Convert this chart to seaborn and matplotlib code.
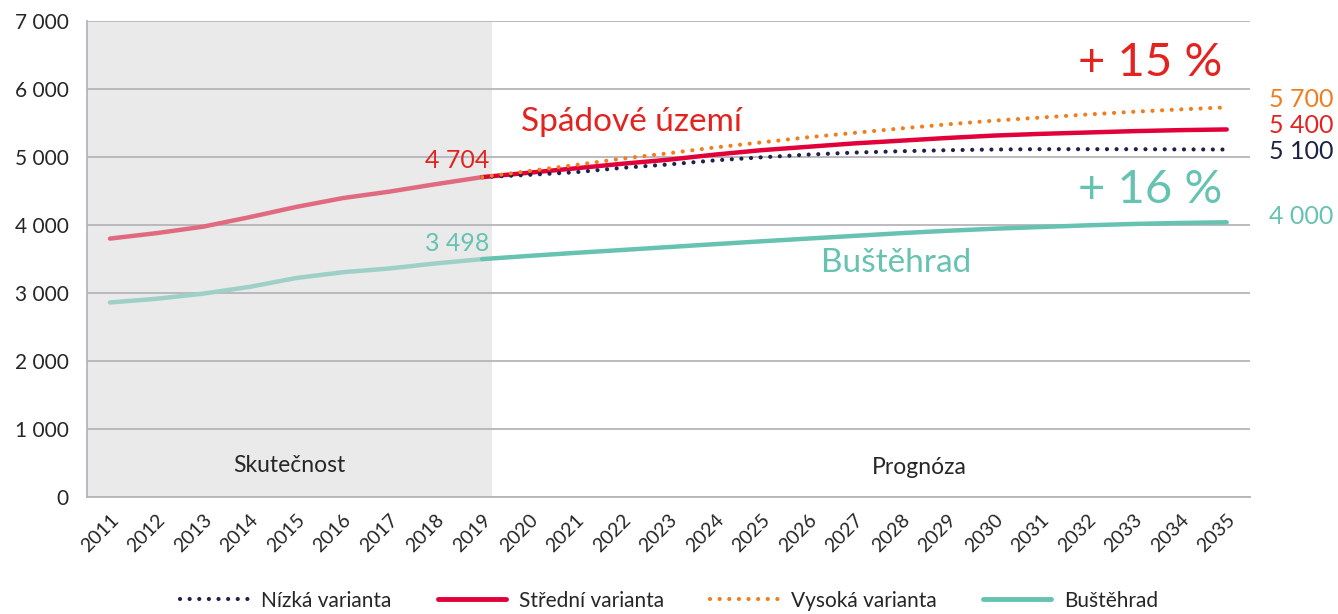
import pandas as pd
import numpy as np
import matplotlib
matplotlib.use("Agg")
import matplotlib.pyplot as plt
from matplotlib.lines import Line2D
import seaborn as sns

# -------------------------------
# Data
# -------------------------------
years = list(range(2011, 2036))
years_actual = list(range(2011, 2020))
years_fore = list(range(2019, 2036))

spad_actual = [3800, 3880, 3975, 4115, 4265, 4395, 4490, 4600, 4704]
bust_actual = [2860, 2915, 2990, 3090, 3220, 3305, 3360, 3435, 3498]

spad_low = [4704, 4737, 4775, 4840, 4890, 4950, 4995, 5035, 5065,
            5085, 5100, 5110, 5115, 5115, 5115, 5112, 5110]
spad_mid = [4704, 4768, 4833, 4900, 4960, 5035, 5100, 5150, 5200,
            5240, 5280, 5315, 5340, 5360, 5380, 5395, 5405]
spad_high = [4704, 4793, 4882, 4975, 5055, 5140, 5215, 5290, 5355,
             5420, 5480, 5535, 5580, 5625, 5665, 5700, 5730]
bust_fore = [3498, 3545, 3590, 3632, 3675, 3718, 3760, 3800, 3840,
             3880, 3915, 3945, 3970, 3995, 4015, 4030, 4040]

end_labels = ["5 700", "5 400", "5 100", "4 000"]
legend_labels = ["Nízká varianta", "Střední varianta", "Vysoká varianta", "Buštěhrad"]

# colours
c_spad_act = "#E06A80"
c_mid = "#E2003A"
c_low = "#1E2148"
c_high = "#F07D1E"
c_bust_act = "#9ED0C7"
c_bust = "#66C2B1"
c_red_txt = "#E3231F"
c_grid = "#B4B4BA"
c_txt = "#262626"

sns.set_style("white")
plt.rcParams['font.family'] = ['Lato', 'DejaVu Sans']

idx = {y: i for i, y in enumerate(years)}
df_act = pd.DataFrame({"x": [idx[y] for y in years_actual],
                       "spad": spad_actual, "bust": bust_actual})
df_fore = pd.DataFrame({"x": [idx[y] for y in years_fore],
                        "low": spad_low, "mid": spad_mid,
                        "high": spad_high, "bust": bust_fore})

fig = plt.figure(figsize=(13.38, 6.14), dpi=100)
ax = fig.add_axes([0.0648, 0.1906, 0.8694, 0.7752])

# shaded "actual" period
ax.axvspan(-0.5, 8.2, color="#EAEAEA", zorder=0, lw=0)

dot = (0, (0.01, 2.3))
sns.lineplot(data=df_act, x="x", y="spad", ax=ax, color=c_spad_act, lw=3.2,
             solid_capstyle="round", zorder=3)
sns.lineplot(data=df_act, x="x", y="bust", ax=ax, color=c_bust_act, lw=3.2,
             solid_capstyle="round", zorder=3)
sns.lineplot(data=df_fore, x="x", y="bust", ax=ax, color=c_bust, lw=3.2,
             solid_capstyle="round", zorder=3)
sns.lineplot(data=df_fore, x="x", y="mid", ax=ax, color=c_mid, lw=3.2,
             solid_capstyle="round", zorder=4)
sns.lineplot(data=df_fore, x="x", y="low", ax=ax, color=c_low, lw=3,
             linestyle=dot, dash_capstyle="round", zorder=5)
sns.lineplot(data=df_fore, x="x", y="high", ax=ax, color=c_high, lw=3,
             linestyle=dot, dash_capstyle="round", zorder=5)

# axes
ax.set_xlim(-0.5, len(years) - 0.5)
ax.set_ylim(0, 7000)
ax.set_xlabel("")
ax.set_ylabel("")
ax.set_yticks(range(0, 7001, 1000))
ax.set_yticklabels([f"{v:,}".replace(",", " ") for v in range(0, 7001, 1000)],
                   fontsize=15, color=c_txt)
ax.yaxis.grid(True, color=c_grid, lw=1.3)
ax.set_axisbelow(True)
ax.set_xticks(range(len(years)))
ax.set_xticklabels([str(y) for y in years], rotation=45, ha="right",
                   rotation_mode="anchor", fontsize=14, color=c_txt)
ax.set_xticks(np.arange(-0.5, len(years), 1), minor=True)
ax.tick_params(axis="x", which="major", length=0, pad=10)
ax.tick_params(axis="x", which="minor", length=7, color=c_grid, width=1.3)
ax.tick_params(axis="y", length=7, color=c_grid, width=1.3, pad=6)
for s in ["top", "right"]:
    ax.spines[s].set_visible(False)
for s in ["left", "bottom"]:
    ax.spines[s].set_color(c_grid)
    ax.spines[s].set_linewidth(1.3)

# annotations
ax.text(3.86, 470, "Skutečnost", fontsize=16.5, color=c_txt, ha="center", va="center")
ax.text(17.4, 440, "Prognóza", fontsize=16.5, color=c_txt, ha="center", va="center")
ax.text(11.2, 5520, "Spádové území", fontsize=24, color=c_red_txt, ha="center", va="center")
ax.text(16.9, 3440, "Buštěhrad", fontsize=24, color=c_bust, ha="center", va="center")
ax.text(8.15, 4780, "4 704", fontsize=18, color=c_red_txt, ha="right", va="bottom")
ax.text(8.15, 3560, "3 498", fontsize=18, color=c_bust, ha="right", va="bottom")
ax.text(23.9, 6380, "+ 15 %", fontsize=34, color=c_red_txt, ha="right", va="center")
ax.text(23.9, 4510, "+ 16 %", fontsize=34, color=c_bust, ha="right", va="center")

end_y = [5840, 5460, 5075, 4120]
end_c = [c_high, c_red_txt, c_low, c_bust]
for lab, yv, cc in zip(end_labels, end_y, end_c):
    ax.text(24.9, yv, lab, fontsize=18, color=cc, ha="left", va="center", clip_on=False)

# legend
handles = [
    Line2D([], [], color=c_low, lw=3, linestyle=dot, dash_capstyle="round"),
    Line2D([], [], color=c_mid, lw=3.5),
    Line2D([], [], color=c_high, lw=3, linestyle=dot, dash_capstyle="round"),
    Line2D([], [], color=c_bust, lw=3.5),
]
fig.legend(handles, legend_labels, loc="lower center", bbox_to_anchor=(0.5, -0.025),
           ncol=4, frameon=False, fontsize=15, handlelength=3.3,
           handletextpad=0.6, columnspacing=2.2, labelcolor=c_txt)

fig.savefig("out.png", dpi=100)
